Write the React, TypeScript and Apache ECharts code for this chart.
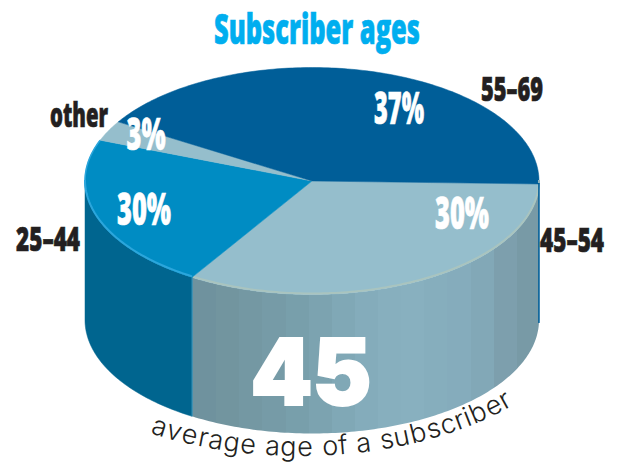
import React, { useEffect, useRef } from "react";
import * as echarts from "echarts";

// Subscriber age split, drawn as an extruded disc.
const categories = ["45–54", "25–44", "other", "55–69"];
const shares = [30, 30, 3, 37];
const shareLabels = ["30%", "30%", "3%", "37%"];
const titleText = "Subscriber ages";
const averageAge = "45";
const averageCaption = "average age of a subscriber";

const topColors = ["#95BECC", "#008CC3", "#95BECC", "#005E98"];
const rimColors = ["#A9C4BF", "#2BA6DC", "#95BECC", "#8FB4BE"];

// Disc geometry
const CX = 312;
const CY = 181;
const RX = 227;
const RY = 113.5;
const DEPTH = 139;

const WIDTH = 619;
const HEIGHT = 463;
const CONDENSED = '"Open Sans"';

// The tilted disc bunches its slices at the far left and stretches them at the
// front, so the angle on the rim is bent by a second-harmonic term.
const rimAngle = (deg: number) => {
  const r = (2 * deg * Math.PI) / 180;
  return deg + 2.5 - 18 * Math.sin(r) - Math.cos(r);
};

const total = shares.reduce((a, b) => a + b, 0);
const spans = (() => {
  let acc = 0;
  return shares.map((v) => {
    const from = (acc / total) * 360;
    acc += v;
    return [rimAngle(from), rimAngle((acc / total) * 360)];
  });
})();

const rimPoint = (deg: number, drop = 0) => {
  const r = (deg * Math.PI) / 180;
  return [CX + RX * Math.cos(r), CY + RY * Math.sin(r) + drop];
};

const arc = (a: number, b: number, drop = 0) => {
  const pts: number[][] = [];
  const n = Math.max(2, Math.ceil(Math.abs(b - a)));
  for (let i = 0; i <= n; i++) pts.push(rimPoint(a + ((b - a) * i) / n, drop));
  return pts;
};

// Front-facing part of a slice's outer edge, in rim degrees.
const frontRanges = (a: number, b: number) => {
  const out: number[][] = [];
  for (const [lo, hi] of [[0, 180], [360, 540]]) {
    const s = Math.max(a, lo);
    const e = Math.min(b, hi);
    if (e > s) out.push([s, e]);
  }
  return out;
};

// Vertical banding of the pale wall, left to right.
const paleWallBands = [
  "#6F929E", "#72959F", "#7498A3", "#769BA7", "#789FAB", "#7CA3B0", "#80A8B6",
  "#84ACBB", "#87AFBE", "#88B0BF", "#86AEBD", "#85ACBC", "#82A8B7", "#7D9FAD", "#789AA6",
];
const wallFill = (i: number): any => {
  if (i === 1) return "#00658F";
  if (i === 3) return "#005E98";
  const n = paleWallBands.length;
  const colorStops: any[] = [];
  paleWallBands.forEach((c, k) => {
    colorStops.push({ offset: k / n, color: c }, { offset: (k + 1) / n, color: c });
  });
  return { type: "linear", x: 193, y: 0, x2: 540, y2: 0, global: true, colorStops };
};

const renderSlice = (params: any) => {
  const i = params.dataIndex;
  const [a, b] = spans[i];
  const children: any[] = [];
  for (const [s, e] of frontRanges(a, b)) {
    const fill = wallFill(i);
    const points = [...arc(s, e), ...arc(e, s, DEPTH)];
    children.push({
      type: "polygon",
      shape: { points },
      style: { fill, stroke: i === 0 ? undefined : fill, lineWidth: i === 3 ? 1.5 : 0.5 },
    });
    if (i === 1) {
      // thin pale seam where the two front walls meet
      children.push({
        type: "polyline",
        shape: { points: [rimPoint(s), rimPoint(s, DEPTH)] },
        style: { stroke: "#3C9ABF", lineWidth: 1, fill: "none" },
      });
    }
  }
  children.push({
    type: "polygon",
    shape: { points: [[CX, CY], ...arc(a, b)] },
    style: { fill: topColors[i], stroke: topColors[i], lineWidth: 0.5 },
  });
  for (const [s, e] of frontRanges(a, b)) {
    children.push({
      type: "polyline",
      shape: { points: arc(s, e, -1) },
      style: { stroke: rimColors[i], lineWidth: 2, fill: "none" },
    });
  }
  if (i === 1) {
    children.push({
      type: "polyline",
      shape: { points: arc(180, b) },
      style: { stroke: rimColors[i], lineWidth: 1.5, fill: "none" },
    });
  }
  return { type: "group", children };
};

const measure = (text: string, font: string) => {
  const ctx = document.createElement("canvas").getContext("2d")!;
  ctx.font = font;
  return ctx.measureText(text).width;
};

// A single line of text squeezed or stretched to a given box width.
const fittedText = (
  text: string,
  cx: number,
  cy: number,
  width: number,
  size: number,
  color: string,
  family = CONDENSED,
  weight: number | string = 800,
  outline = 0.7,
) => ({
  type: "text",
  x: cx,
  y: cy,
  scaleX: width / measure(text, `${weight} ${size}px ${family}`),
  silent: true,
  z: 20,
  style: {
    text,
    fill: color,
    stroke: color,
    lineWidth: outline,
    fontFamily: family,
    fontWeight: weight,
    fontSize: size,
    textAlign: "center",
    textVerticalAlign: "middle",
  },
});

// The caption runs letter by letter along a shallow curve under the disc.
const curvedCaption = () => {
  const family = "Inter";
  const size = 27;
  const font = `300 ${size}px ${family}`;
  const ccx = 300;
  const ccy = 290;
  const crx = 300;
  const cry = 170;
  const pointAt = (x: number) => {
    const u = (x - ccx) / crx;
    return ccy + cry * Math.sqrt(1 - u * u);
  };
  const samples: { x: number; y: number; s: number }[] = [];
  let len = 0;
  for (let x = 148; x <= 515; x += 1) {
    const y = pointAt(x);
    if (samples.length) {
      const p = samples[samples.length - 1];
      len += Math.hypot(x - p.x, y - p.y);
    }
    samples.push({ x, y, s: len });
  }
  const advance = averageCaption.split("").map((c) => measure(c, font));
  const natural = advance.reduce((a, b) => a + b, 0);
  const stretch = len / natural;
  let pos = 0;
  return averageCaption.split("").flatMap((ch, k) => {
    const w = advance[k] * stretch;
    const mid = pos + w / 2;
    pos += w;
    if (ch === " ") return [];
    const idx = samples.findIndex((q) => q.s >= mid);
    const q = samples[Math.max(1, idx)];
    const p = samples[Math.max(0, idx - 1)];
    const angle = Math.atan2(q.y - p.y, q.x - p.x);
    return [
      {
        type: "text",
        x: q.x,
        y: q.y,
        rotation: -angle,
        silent: true,
        z: 20,
        style: {
          text: ch,
          fill: "#231F20",
          fontFamily: family,
          fontWeight: 300,
          fontSize: size,
          textAlign: "center",
          textVerticalAlign: "bottom",
        },
      },
    ];
  });
};

const App = () => {
  const ref = useRef<HTMLDivElement>(null);
  useEffect(() => {
    document.body.style.margin = "0";
    const chart = echarts.init(ref.current!, undefined, { renderer: "svg" });
    const black = "#231F20";
    chart.setOption({
      animation: false,
      backgroundColor: "#FFFFFF",
      series: [
        {
          type: "custom",
          coordinateSystem: "none",
          renderItem: renderSlice,
          data: shares,
          silent: true,
        },
      ],
      graphic: [
        fittedText(titleText, 317, 28, 206, 42, "#00AEEF"),
        fittedText(categories[3], 512, 87, 62, 34, black),
        fittedText(categories[0], 572, 238, 64, 34, black),
        fittedText(categories[1], 48, 237, 64, 34, black),
        fittedText(categories[2], 79, 114, 58, 33, black),
        fittedText(shareLabels[3], 399, 107, 50, 44, "#FFFFFF"),
        fittedText(shareLabels[0], 462, 212, 54, 44, "#FFFFFF"),
        fittedText(shareLabels[1], 144, 208, 54, 44, "#FFFFFF"),
        fittedText(shareLabels[2], 146, 133, 39, 44, "#FFFFFF"),
        fittedText(averageAge, 311, 372, 121, 92, "#FFFFFF", "Inter", 900, 2),
        ...curvedCaption(),
      ],
    });
    return () => chart.dispose();
  }, []);
  return (
    <div
      ref={ref}
      style={{ position: "absolute", left: 0, top: 0, width: WIDTH, height: HEIGHT, overflow: "hidden" }}
    />
  );
};

export default App;
